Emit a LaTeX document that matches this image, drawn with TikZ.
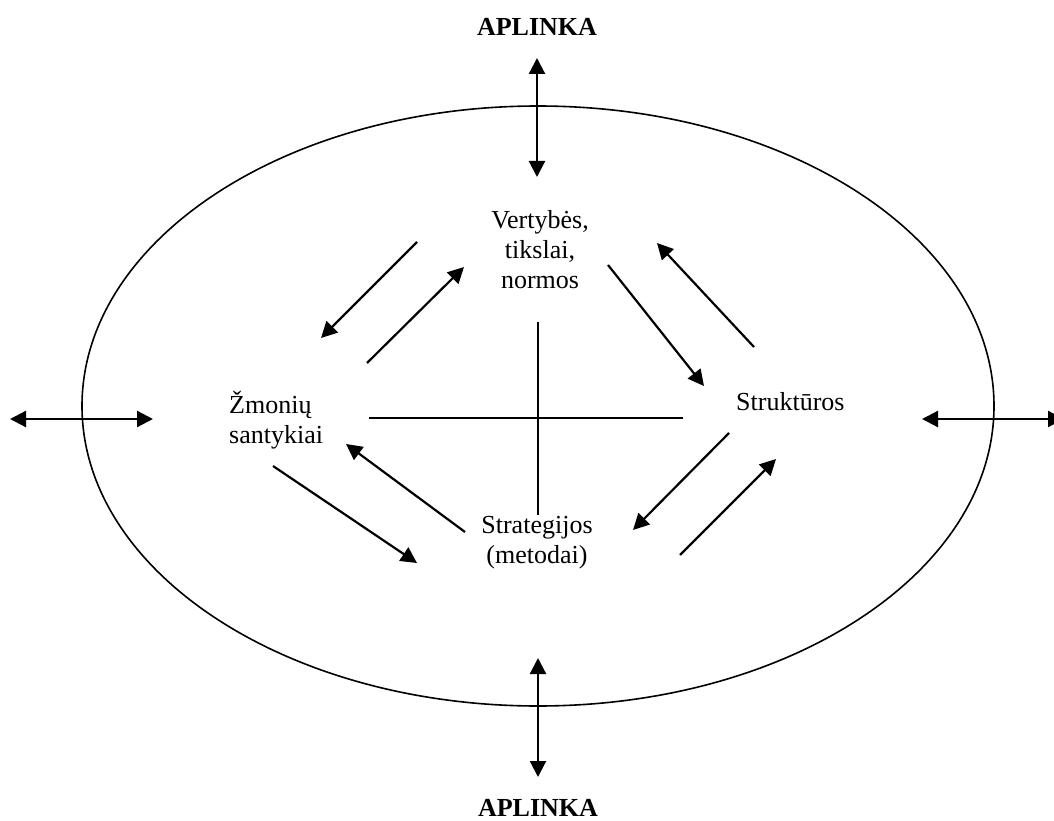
\documentclass[tikz,border=0pt]{standalone}
\usepackage{fontspec}
\setmainfont{Liberation Serif}
\usetikzlibrary{arrows.meta}
\begin{document}
\begin{tikzpicture}[x=1pt,y=-1pt,
  label text/.style={font=\fontsize{26}{30}\selectfont, inner sep=0pt},
  env text/.style={font=\fontsize{26}{30}\selectfont\bfseries, inner sep=0pt},
  flow/.style={line width=2.2pt, -{Triangle[length=16pt,width=16pt]}},
  both/.style={line width=2.2pt, {Triangle[length=16pt,width=16pt]}-{Triangle[length=16pt,width=16pt]}},
  axis line/.style={line width=1.4pt}]
\useasboundingbox (0,0) rectangle (1054,821);

% organisation boundary
\draw[line width=1.6pt] (538,406) ellipse [x radius=456, y radius=300];

% environment labels
\node[env text, anchor=base] (envtop) at (537,36) {APLINKA};
\node[env text, anchor=base] (envbot) at (538,816) {APLINKA};

% four elements (multi-line nodes are anchored at their last baseline)
\node[label text, anchor=base, align=center] (values) at (540,288) {Vertybės,\\tikslai,\\normos};
\node[label text, anchor=base west, align=left] (people) at (229,443) {Žmonių\\santykiai};
\node[label text, anchor=base west] (struct) at (736,410) {Struktūros};
\node[label text, anchor=base, align=center] (strat) at (537,563) {Strategijos\\(metodai)};

% arrow end points
\coordinate (t1) at (537,58);   \coordinate (t2) at (537,177);
\coordinate (b1) at (538,658);  \coordinate (b2) at (538,777);
\coordinate (l1) at (10,419);   \coordinate (l2) at (153,419);
\coordinate (r1) at (922,419);  \coordinate (r2) at (1064,419);

\coordinate (a1s) at (417,242); \coordinate (a1e) at (321,338);
\coordinate (a2s) at (367,363); \coordinate (a2e) at (464,267);
\coordinate (a3s) at (608,265); \coordinate (a3e) at (704,386);
\coordinate (a4s) at (754,347); \coordinate (a4e) at (657,243);
\coordinate (a5s) at (729,433); \coordinate (a5e) at (633,530);
\coordinate (a6s) at (680,555); \coordinate (a6e) at (776,459);
\coordinate (a7s) at (273,466); \coordinate (a7e) at (417,563);
\coordinate (a8s) at (465,532); \coordinate (a8e) at (346,444);

\coordinate (vtop) at (538,322); \coordinate (vbot) at (538,515);
\coordinate (hl) at (369,418);   \coordinate (hr) at (683,418);

% exchange with the environment
\draw[both] (t1) -- (t2);
\draw[both] (b1) -- (b2);
\draw[both] (l1) -- (l2);
\draw[both] (r1) -- (r2);

% interactions between the elements
\draw[flow] (a1s) -- (a1e);
\draw[flow] (a2s) -- (a2e);
\draw[flow] (a3s) -- (a3e);
\draw[flow] (a4s) -- (a4e);
\draw[flow] (a5s) -- (a5e);
\draw[flow] (a6s) -- (a6e);
\draw[flow] (a7s) -- (a7e);
\draw[flow] (a8s) -- (a8e);

% central cross
\draw[axis line] (vtop) -- (vbot);
\draw[axis line] (hl) -- (hr);
\end{tikzpicture}
\end{document}
